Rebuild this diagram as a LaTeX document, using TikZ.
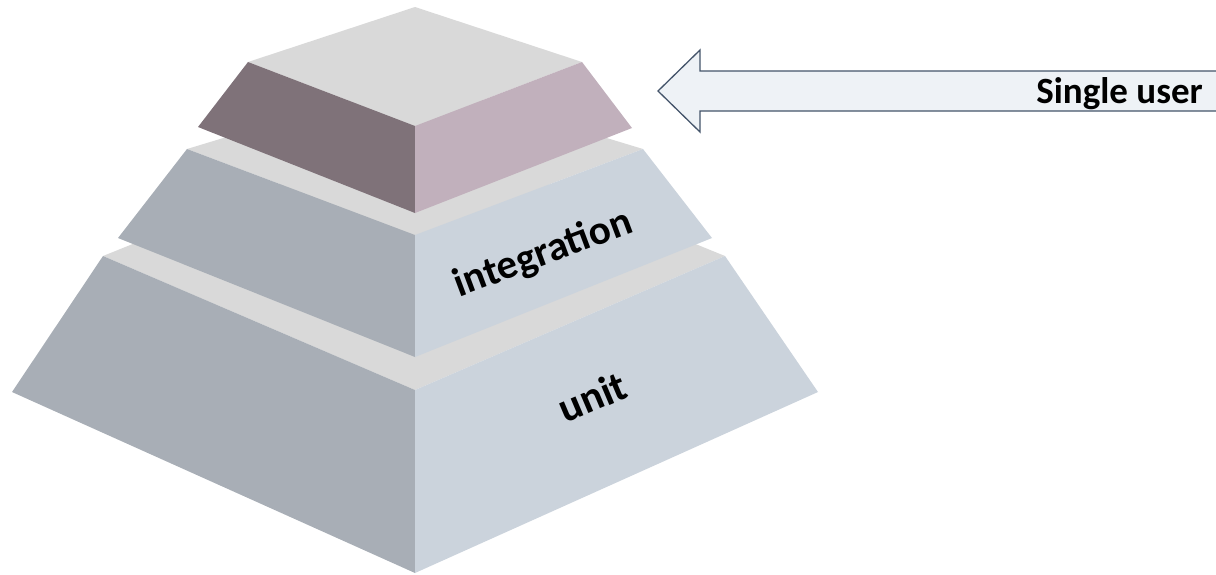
\documentclass[tikz,border=0pt]{standalone}
\usepackage{fontspec}
\setmainfont{Carlito}
\definecolor{topface}{HTML}{D9D9D9}
\definecolor{mauvedark}{HTML}{7F7279}
\definecolor{mauvelight}{HTML}{C1B0BC}
\definecolor{slatedark}{HTML}{A8AEB6}
\definecolor{slatelight}{HTML}{CBD3DC}
\definecolor{arrowfill}{HTML}{EEF2F6}
\definecolor{arrowline}{HTML}{44546A}
\tikzset{
  face/.style={fill=#1, draw=none},
  tierlabel/.style={font=\fontsize{#1}{#1}\selectfont\bfseries, inner sep=0pt, anchor=base},
}
\begin{document}
\begin{tikzpicture}[x=1pt, y=-1pt]
  \useasboundingbox (0,0) rectangle (1216,574);
  \clip (0,0) rectangle (1216,574);

  % bottom tier
  \fill[face=topface] (103,256) -- (415,130) -- (725,256) -- (415,390) -- cycle;
  \fill[face=slatedark] (103,256) -- (415,390) -- (415,573) -- (12,392) -- cycle;
  \fill[face=slatelight] (415,390) -- (725,256) -- (818,392) -- (415,573) -- cycle;

  % middle tier
  \fill[face=topface] (187,149) -- (415,80) -- (643,149) -- (415,235) -- cycle;
  \fill[face=slatedark] (187,149) -- (415,235) -- (415,357) -- (118,238) -- cycle;
  \fill[face=slatelight] (415,235) -- (643,149) -- (712,238) -- (415,357) -- cycle;

  % top tier
  \fill[face=topface] (248,62) -- (415,7) -- (582,62) -- (415,126) -- cycle;
  \fill[face=mauvedark] (248,62) -- (415,126) -- (415,213) -- (198,127) -- cycle;
  \fill[face=mauvelight] (415,126) -- (582,62) -- (632,128) -- (415,213) -- cycle;

  % tier labels
  \node[tierlabel=41, rotate=20.5] (integration) at (547,264.5) {integration};
  \node[tierlabel=42, rotate=23] (unit) at (598,410) {unit};

  % block arrow pointing at the top tier
  \draw[fill=arrowfill, draw=arrowline, line width=1.3pt, line join=miter]
    (658,91) -- (700,50) -- (700,71) -- (1240,71) -- (1240,111) -- (700,111) -- (700,132) -- cycle;
  \node[tierlabel=37, anchor=base east] (single) at (1203,103) {Single user};
\end{tikzpicture}
\end{document}
